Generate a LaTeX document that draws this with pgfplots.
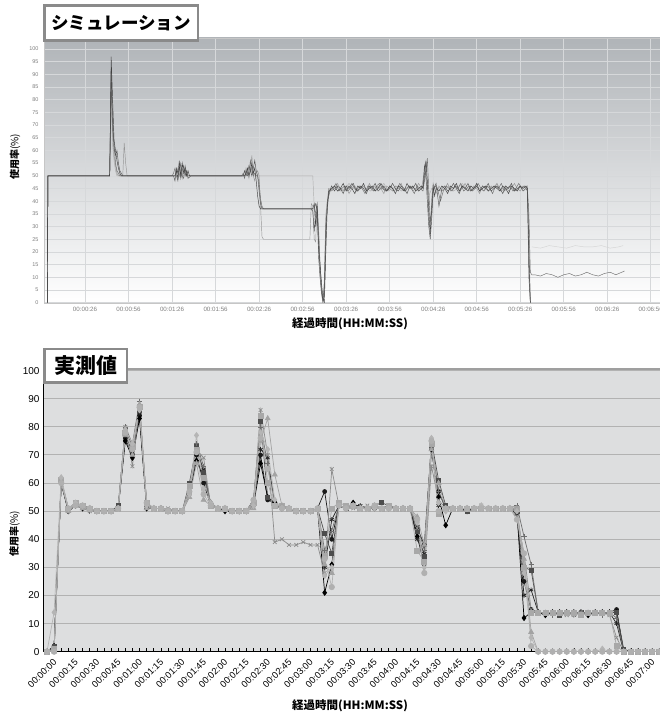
\documentclass[border=0pt]{standalone}
\usepackage{fontspec}
\setmainfont{Liberation Sans}
\newfontfamily\cjk{Noto Sans CJK JP}
\usepackage{pgfplots}
\pgfplotsset{compat=1.18}
\usepackage{pgfplotstable}

\definecolor{bgb}{RGB}{221,222,223}
\definecolor{gridb}{RGB}{178,178,178}
\definecolor{topg}{RGB}{176,180,184}
\definecolor{gridt}{RGB}{214,216,218}
\definecolor{boxg}{RGB}{138,138,138}
\definecolor{cH}{RGB}{26,26,26}
\definecolor{cA}{RGB}{0,0,0}
\definecolor{cE}{RGB}{38,38,38}
\definecolor{cB}{RGB}{77,77,77}
\definecolor{cG}{RGB}{110,110,110}
\definecolor{cD}{RGB}{140,140,140}
\definecolor{cI}{RGB}{168,168,168}
\definecolor{cC}{RGB}{163,163,163}
\definecolor{cJ}{RGB}{181,181,181}
\definecolor{cF}{RGB}{176,176,176}
\definecolor{s1}{RGB}{64,64,64}
\definecolor{s2}{RGB}{85,85,85}
\definecolor{s3}{RGB}{110,110,110}
\definecolor{s4}{RGB}{150,150,150}
\definecolor{s5}{RGB}{175,175,175}
\definecolor{s6}{RGB}{212,212,212}

\pgfplotstableread{
i H A E B G D I C J F
0 0 0 0 0 0 0 0 0 0 0
1 2 2 1 2 1 0 1 0 14 0
2 60 60 61 61 60 61 61 61 62 60
3 50 50 50 51 50 51 51 50 51 51
4 52 52 52 53 52 52 53 52 53 52
5 52 51 52 52 52 51 52 51 52 52
6 51 51 51 51 50 50 51 51 51 51
7 50 50 50 50 50 50 50 50 50 50
8 50 50 50 50 50 50 50 50 50 50
9 50 50 50 50 50 50 50 50 50 50
10 51 51 51 52 51 51 51 51 51 51
11 76 75 77 79 80 80 78 77 79 78
12 70 69 71 73 74 66 73 70 74 72
13 84 83 85 86 89 87 87 88 86 87
14 52 51 52 53 52 52 53 51 52 53
15 51 51 51 51 51 51 51 51 51 51
16 51 51 51 51 51 51 51 51 51 51
17 50 50 50 50 50 51 50 50 50 50
18 50 50 50 50 50 50 50 50 50 50
19 50 50 50 50 50 50 50 50 50 50
20 57 56 57 60 58 55 59 55 56 57
21 70 68 71 73 74 72 72 67 77 71
22 60 62 65 64 66 69 62 54 58 56
23 52 53 52 52 52 52 52 52 53 52
24 51 51 51 51 51 51 51 51 51 51
25 51 50 51 51 51 51 51 51 51 51
26 50 50 50 50 50 50 50 50 50 50
27 50 50 50 50 50 50 50 50 50 50
28 50 50 50 50 50 50 50 50 50 50
29 53 52 54 54 53 52 53 51 52 54
30 70 67 72 82 80 86 84 75 78 76
31 54 55 69 55 67 70 60 83 72 65
32 53 53 52 52 52 39 52 63 54 52
33 51 51 51 52 51 40 52 52 51 51
34 51 51 51 51 51 38 51 51 51 51
35 50 50 50 50 50 38 50 50 50 50
36 50 50 50 50 50 39 50 50 50 50
37 50 50 50 50 50 38 50 50 50 50
38 51 51 51 51 51 38 51 51 51 51
39 57 21 30 42 36 28 34 31 27 33
40 40 31 47 35 43 65 51 28 30 23
41 52 52 52 52 52 52 53 52 52 52
42 51 51 51 51 51 51 52 51 51 51
43 52 53 52 52 52 51 52 52 52 52
44 51 51 52 51 51 51 51 51 51 51
45 51 51 51 51 51 52 51 51 51 51
46 52 51 51 52 51 51 52 52 51 52
47 51 51 51 53 51 51 51 51 51 51
48 52 51 51 52 51 51 52 51 51 51
49 51 51 51 51 51 51 51 51 51 51
50 51 51 51 51 51 51 51 51 51 51
51 51 51 51 51 51 51 51 51 51 51
52 44 41 40 43 45 44 36 48 46 47
53 38 31 35 34 36 28 32 38 30 28
54 74 72 73 75 73 66 74 72 76 75
55 57 55 52 61 57 54 49 60 53 50
56 51 45 51 52 51 51 51 51 50 51
57 51 51 51 51 51 51 51 51 51 51
58 51 51 51 51 51 51 51 51 51 51
59 50 50 51 50 51 51 51 51 51 51
60 51 51 51 51 51 51 51 51 51 51
61 51 51 51 51 51 52 51 51 52 51
62 51 51 51 51 51 51 51 51 51 51
63 51 51 51 51 51 51 51 51 51 51
64 51 51 51 51 51 51 51 51 51 51
65 51 51 51 51 51 51 51 51 51 51
66 51 50 49 50 52 48 51 51 50 47
67 25 12 20 30 41 35 30 33 28 35
68 15 14 22 29 31 15 14 7 5 2
69 14 14 14 14 14 14 14 0 0 0
70 14 13 14 14 14 14 14 0 0 0
71 14 14 14 14 13 14 14 0 0 0
72 14 14 14 13 14 14 14 0 0 0
73 14 14 14 14 14 13 14 0 0 0
74 14 14 13 14 14 14 14 0 0 0
75 14 14 14 14 14 14 13 0 0 0
76 14 13 14 14 14 14 14 0 0 0
77 14 14 14 14 14 14 14 0 0 0
78 14 14 14 14 13 14 14 0 1 0
79 14 14 14 14 14 13 14 0 0 0
80 15 14 10 14 12 5 2 0 0 0
81 0 0 0 1 0 0 0 0 0 0
82 0 0 0 0 0 0 0 0 0 0
83 0 0 0 0 0 0 0 0 0 0
84 0 0 0 0 0 0 0 0 0 0
85 0 0 0 0 0 0 0 0 0 0
86 0 0 0 0 0 0 0 0 0 0
}\meas

\begin{document}
\begin{tikzpicture}[x=1pt,y=1pt]
\useasboundingbox (0,0) rectangle (660,721);

%================ TOP: simulation
\begin{axis}[
  at={(44pt,418pt)}, anchor=south west, scale only axis,
  width=616pt, height=265pt,
  xmin=-2.3, xmax=422.4, ymin=-0.12, ymax=104.3,
  axis background/.style={top color=topg, bottom color=white},
  xtick={26,56,...,416},
  xticklabels={00:00:26,00:00:56,00:01:26,00:01:56,00:02:26,00:02:56,00:03:26,00:03:56,00:04:26,00:04:56,00:05:26,00:05:56,00:06:26,00:06:56},
  ytick={0,5,...,100},
  grid=major, grid style={line width=0.5pt, color=gridt},
  major tick length=0pt,
  axis line style={gray!45, line width=0.5pt},
  /pgf/number format/assume math mode=true,
  yticklabel style={font=\fontsize{5.5}{6}\selectfont, text=gray, xshift=-2pt},
  xticklabel style={font=\fontsize{6.2}{7}\selectfont, text=gray, yshift=-1pt},
  every axis plot/.append style={line width=0.45pt, mark=none},
]
\addplot[s5] coordinates {(0,0)(0.4,50)(43,50)(44,80)(45,62)(46,56)(47,52)(48,50)(89,50)(90,52)(91,50)(92,54)(93,51)(94,50)(137,50)(138,52)(139,50)(140,53)(141,51)(142,50)(183,50)(184,38)(185,39)(186,36)(187,25)(188,12)(189,3)(190,0)(191,10)(192,35)(194,45)
(196,45)(199,46)(202,44)(205,45)(208,47)(211,45)(214,44)(217,46)(220,45)(223,44)(226,46)(229,45)(232,47)(235,44)(238,45)(241,46)(244,44)(247,45)(250,46)(253,45)(256,44)(259,46)(261,50)(263,42)(265,45)(268,46)(271,44)(274,45)(277,46)(280,44)(283,45)(286,47)(289,45)(292,44)(295,46)(298,45)(301,44)(304,46)(307,45)(310,47)(313,44)(316,45)(319,46)(322,44)(325,45)(328,46)(331,45)(332,30)(333,1)};
\addplot[s6] coordinates {(334,22)(340,21.5)(346,22.5)(352,22)(358,21.5)(364,22.5)(370,22)(376,22)(382,22.5)(388,21.5)(394,22)(397,22.5)};
\addplot[s4] coordinates {(0,0)(0.4,50)(43,50)(44,85)(45,66)(46,58)(47,54)(48,51)(49,50)(52,50)(53,63)(54,55)(55,50)(88,50)(89,51)(90,53)(91,50)(92,52)(93,49)(94,53)(95,52)(96,50)(135,50)(136,50)(137,53)(138,51)(139,49)(140,52)(141,58)(142,50)(143,48)(144,51)(145,52)(146,50)(147,38)(148,26)(149,25)(181,25)(182,39)(183,38)(184,25)(185,24)(186,39)(187,30)(188,14)(189,5)(190,1)(191,8)(192,33)(194,45)
(196,44)(198,45)(200,47)(202,45)(204,44)(206,46)(208,43)(210,45)(212,46)(214,44)(216,45)(218,46)(220,44)(222,47)(224,45)(226,44)(228,46)(230,45)(232,43)(234,46)(236,45)(238,44)(240,46)(242,45)(244,47)(246,44)(248,45)(250,46)(252,44)(254,45)(256,47)(258,45)(260,52)(261,55)(262,46)(263,38)(264,30)(265,41)(266,47)(268,43)(270,46)(272,44)(274,45)(276,47)(278,44)(280,45)(282,46)(284,44)(286,45)(288,47)(290,45)(292,44)(294,46)(296,45)(298,43)(300,46)(302,45)(304,44)(306,46)(308,45)(310,47)(312,44)(314,45)(316,46)(318,44)(320,45)(322,47)(324,45)(326,44)(328,46)(330,45)(331,46)(332,15)(333,0)};
\addplot[s3] coordinates {(0,0)(0.4,50)(43,50)(44,88)(45,68)(46,63)(47,55)(48,52)(49,51)(50,50)(86,50)(87,51)(88,53)(89,50)(90,48)(91,52)(92,55)(93,50)(94,49)(95,54)(96,51)(97,50)(134,50)(135,51)(136,49)(137,52)(138,50)(139,51)(140,56)(141,52)(142,50)(143,51)(144,50)(145,50)(146,47)(147,41)(148,38)(149,37)(150,37)(184,37)(185,39)(186,37)(187,28)(188,16)(189,6)(190,0)(191,3)(192,25)(193,40)(195,44)
(197,45)(199,47)(201,44)(203,45)(205,46)(207,44)(209,45)(211,47)(213,44)(215,46)(217,45)(219,43)(221,46)(223,45)(225,44)(227,46)(229,47)(231,45)(233,44)(235,45)(237,46)(239,44)(241,45)(243,47)(245,45)(247,44)(249,46)(251,45)(253,43)(255,46)(257,45)(259,44)(260,48)(261,52)(262,57)(263,44)(264,32)(265,36)(266,43)(267,46)(269,45)(271,40)(273,44)(275,46)(277,45)(279,44)(281,46)(283,45)(285,47)(287,44)(289,45)(291,46)(293,44)(295,45)(297,47)(299,45)(301,44)(303,46)(305,45)(307,43)(309,46)(311,45)(313,47)(315,44)(317,45)(319,46)(321,44)(323,45)(325,47)(327,45)(329,46)(331,45)(332,35)(333,12)(334,11)
(336,11)(340,10.5)(344,11.5)(348,11)(352,10)(356,11)(360,11.5)(364,10.5)(368,11)(372,12)(376,11)(380,10.5)(384,11.5)(388,12)(392,11)(396,12)(398,12.5)};
\addplot[s2] coordinates {(0,0)(0.4,50)(43,50)(44,92)(45,72)(46,61)(47,58)(48,60)(49,55)(50,52)(52,50)(87,50)(88,48)(89,53)(90,51)(91,56)(92,49)(93,52)(94,54)(95,50)(96,52)(97,49)(99,50)(135,50)(136,52)(137,50)(138,51)(139,54)(140,52)(141,50)(142,53)(143,56)(144,52)(145,50)(146,44)(147,39)(148,37)(149,37)(182,37)(183,36)(184,28)(185,36)(186,39)(187,18)(188,10)(189,4)(190,1)(191,6)(192,30)(194,43)(196,46)
(198,44)(200,46)(202,45)(204,43)(206,46)(208,45)(210,47)(212,45)(214,44)(216,46)(218,45)(220,43)(222,46)(224,45)(226,47)(228,44)(230,45)(232,46)(234,44)(236,45)(238,47)(240,45)(242,44)(244,46)(246,45)(248,43)(250,46)(252,45)(254,47)(256,44)(258,45)(259,46)(260,54)(261,50)(262,40)(263,30)(264,25)(265,33)(266,44)(268,47)(270,38)(272,45)(274,46)(276,44)(278,45)(280,47)(282,45)(284,43)(286,46)(288,45)(290,47)(292,44)(294,45)(296,46)(298,44)(300,46)(302,45)(304,47)(306,44)(308,45)(310,46)(312,45)(314,43)(316,46)(318,45)(320,47)(322,44)(324,45)(326,46)(328,44)(330,45)(331,44)(332,10)(333,0)};
\addplot[s1] coordinates {(0,0)(0.4,50)(43,50)(44,97)(45,80)(46,64)(47,60)(48,56)(49,53)(50,51)(51,50)(88,50)(89,52)(90,49)(91,54)(92,50)(93,55)(94,51)(95,53)(96,50)(97,52)(98,50)(136,50)(137,51)(138,53)(139,50)(140,52)(141,55)(142,51)(143,53)(144,48)(145,42)(146,38)(147,37)(183,37)(184,39)(185,30)(186,38)(187,22)(188,15)(189,8)(190,2)(191,0)(192,20)(193,38)(194,44)(196,45)
(198,46)(200,44)(202,45)(204,47)(206,44)(208,46)(210,45)(212,43)(214,46)(216,45)(218,47)(220,44)(222,45)(224,46)(226,44)(228,45)(230,47)(232,45)(234,44)(236,46)(238,45)(240,43)(242,46)(244,45)(246,44)(248,47)(250,45)(252,46)(254,44)(256,45)(258,46)(259,45)(260,50)(261,56)(262,48)(263,35)(264,27)(265,38)(266,46)(267,42)(268,45)(270,44)(272,46)(274,45)(276,43)(278,46)(280,45)(282,47)(284,44)(286,46)(288,45)(290,44)(292,46)(294,45)(296,47)(298,44)(300,45)(302,46)(304,44)(306,45)(308,46)(310,45)(312,44)(314,46)(316,45)(318,43)(320,46)(322,45)(324,44)(326,46)(328,45)(330,46)(331,45)(332,20)(333,0)};
\end{axis}

%================ BOTTOM: measured
\begin{axis}[
  at={(43pt,69.3pt)}, anchor=south west, scale only axis,
  width=617pt, height=282.7pt,
  xmin=-0.56, xmax=86.1, ymin=0, ymax=100.6,
  axis background/.style={fill=bgb},
  axis x line*=bottom, axis y line*=left,
  axis line style={black, line width=0.8pt, -},
  xtick={0,3,...,84},
  xticklabels={00:00:00,00:00:15,00:00:30,00:00:45,00:01:00,00:01:15,00:01:30,00:01:45,00:02:00,00:02:15,00:02:30,00:02:45,00:03:00,00:03:15,00:03:30,00:03:45,00:04:00,00:04:15,00:04:30,00:04:45,00:05:00,00:05:15,00:05:30,00:05:45,00:06:00,00:06:15,00:06:30,00:06:45,00:07:00},
  minor xtick={0,1,...,86},
  xtick align=inside,
  major tick length=3.5pt, minor tick length=3.5pt,
  xtick style={black, line width=0.6pt},
  ytick={0,10,...,100},
  ytick style={draw=none},
  ymajorgrids=true, grid style={color=gridb, line width=1pt},
  /pgf/number format/assume math mode=true,
  yticklabel style={font=\fontsize{10}{11}\selectfont},
  xticklabel style={rotate=45, anchor=north east, inner sep=0.5pt, yshift=-8pt, font=\fontsize{9.3}{10}\selectfont},
  every axis plot/.append style={line width=0.7pt, mark options={solid}},
  extra description/.code={\draw[gray!75, line width=1.2pt] (rel axis cs:0,1) -- (rel axis cs:1,1);},
]
\addplot[cH, mark=*, mark size=2pt] table[x=i,y=H]{\meas};
\addplot[cA, mark=diamond*, mark size=2.6pt] table[x=i,y=A]{\meas};
\addplot[cE, mark=asterisk, mark size=2.4pt] table[x=i,y=E]{\meas};
\addplot[cB, mark=square*, mark size=2pt] table[x=i,y=B]{\meas};
\addplot[cG, mark=+, mark size=2.6pt] table[x=i,y=G]{\meas};
\addplot[cD, mark=x, mark size=2.6pt] table[x=i,y=D]{\meas};
\addplot[cI, mark=square*, mark size=2.5pt] table[x=i,y=I]{\meas};
\addplot[cC, mark=triangle*, mark size=2.8pt] table[x=i,y=C]{\meas};
\addplot[cJ, mark=diamond*, mark size=2.8pt] table[x=i,y=J]{\meas};
\addplot[cF, mark=*, mark size=2.7pt] table[x=i,y=F]{\meas};
\end{axis}

%================ titles and labels
\node[draw=boxg, line width=2.5pt, fill=white, minimum width=153.5pt, minimum height=35pt, inner sep=0pt,
      font=\cjk\bfseries\fontsize{17.5}{18}\selectfont] at (121,698.2) {シミュレーション};
\node[draw=boxg, line width=2.5pt, fill=white, minimum width=82.5pt, minimum height=33.5pt, inner sep=0pt,
      font=\cjk\bfseries\fontsize{21}{21}\selectfont] at (85.5,355) {実測値};

\node[rotate=90, font=\cjk\bfseries\fontsize{10}{10}\selectfont] at (15,564) {使用率{\mdseries(\%)}};
\node[rotate=90, font=\cjk\bfseries\fontsize{10}{10}\selectfont] at (14.5,187) {使用率{\mdseries(\%)}};
\node[font=\cjk\bfseries\fontsize{11.5}{12}\selectfont] at (350,397) {経過時間(HH:MM:SS)};
\node[font=\cjk\bfseries\fontsize{11.5}{12}\selectfont] at (350,15) {経過時間(HH:MM:SS)};
\end{tikzpicture}
\end{document}
